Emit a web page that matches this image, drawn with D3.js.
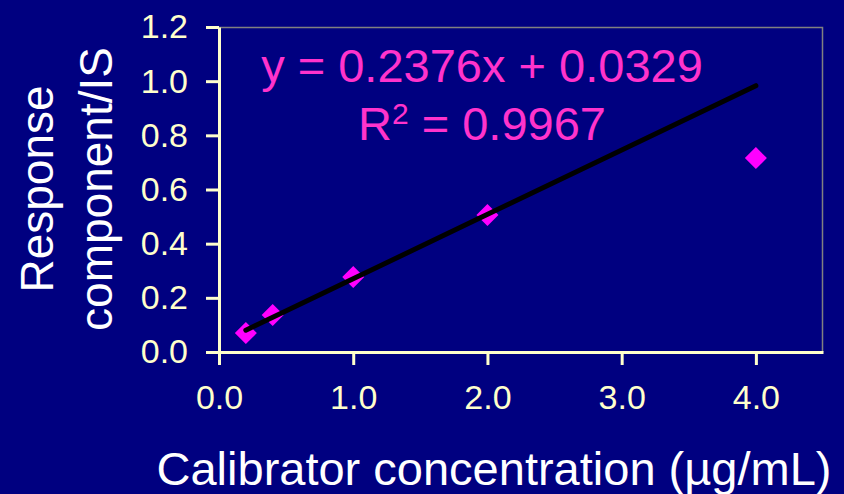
<!DOCTYPE html>
<html>
<head>
<meta charset="utf-8">
<script src="https://cdn.jsdelivr.net/npm/d3@7"></script>
<style>
  html, body { margin: 0; padding: 0; background: #000080; }
  svg { display: block; }
  text { font-family: "Liberation Sans", Arial, sans-serif; }
</style>
</head>
<body>
<svg id="chart" width="844" height="494"></svg>
<script>
// Calibration data: concentration (µg/mL) vs response ratio component/IS
const concentrations = [0.2, 0.4, 1.0, 2.0, 4.0];
const responses = [0.070, 0.137, 0.277, 0.506, 0.716];

// Linear fit shown on the chart
const slope = 0.2376;
const intercept = 0.0329;
const rSquared = 0.9967;
const fitRange = [0.2, 4.0];

const xTicks = [0, 1, 2, 3, 4];
const yTicks = [0, 0.2, 0.4, 0.6, 0.8, 1.0, 1.2];

const W = 844, H = 494;
const margin = { top: 27, right: 21, bottom: 142, left: 219 };
const iw = W - margin.left - margin.right;
const ih = H - margin.top - margin.bottom;

const svg = d3.select("#chart");
svg.append("rect").attr("width", W).attr("height", H).attr("fill", "#000080");

const g = svg.append("g").attr("transform", `translate(${margin.left},${margin.top})`);

const x = d3.scaleLinear().domain([0, 4.5]).range([0, iw]);
const y = d3.scaleLinear().domain([0, 1.2]).range([ih, 0]);

const axisColor = "#FFFFCC";

// Plot frame (top and right edges)
g.append("path")
  .attr("d", `M0,0.5H${iw - 0.5}V${ih}`)
  .attr("fill", "none")
  .attr("stroke", "#808080")
  .attr("stroke-width", 1.5);

// X axis
const xAxis = g.append("g")
  .attr("transform", `translate(0,${ih})`)
  .call(d3.axisBottom(x).tickValues(xTicks).tickFormat(d3.format(".1f")).tickSize(13).tickSizeOuter(0).tickPadding(20));
xAxis.select(".domain").attr("stroke", axisColor).attr("stroke-width", 3);
xAxis.selectAll(".tick line").attr("stroke", axisColor).attr("stroke-width", 3);
xAxis.selectAll(".tick text")
  .attr("fill", axisColor)
  .attr("font-size", 34)
  .attr("font-family", "Liberation Sans, Arial, sans-serif");

// Y axis
const yAxis = g.append("g")
  .call(d3.axisLeft(y).tickValues(yTicks).tickFormat(d3.format(".1f")).tickSize(13).tickSizeOuter(0).tickPadding(18));
yAxis.select(".domain").attr("stroke", axisColor).attr("stroke-width", 3);
yAxis.selectAll(".tick line").attr("stroke", axisColor).attr("stroke-width", 3);
yAxis.selectAll(".tick text")
  .attr("fill", axisColor)
  .attr("font-size", 34)
  .attr("font-family", "Liberation Sans, Arial, sans-serif");

// Data markers (diamonds)
const diamond = d3.symbol().type(d3.symbolSquare).size(242);
g.selectAll(".pt")
  .data(concentrations.map((c, i) => [c, responses[i]]))
  .join("path")
  .attr("class", "pt")
  .attr("d", diamond)
  .attr("transform", d => `translate(${x(d[0])},${y(d[1])}) rotate(45)`)
  .attr("fill", "#FF00FF");

// Trendline from the fitted equation, drawn over the markers
const fitPoints = fitRange.map(v => [v, slope * v + intercept]);
g.append("path")
  .datum(fitPoints)
  .attr("d", d3.line().x(d => x(d[0])).y(d => y(d[1])))
  .attr("stroke", "#000000")
  .attr("stroke-width", 5)
  .attr("stroke-linecap", "round")
  .attr("fill", "none");

// Equation and R² annotation
const eqColor = "#FF33CC";
const eqX = 482 - margin.left;
g.append("text")
  .attr("x", eqX)
  .attr("y", 82 - margin.top)
  .attr("text-anchor", "middle")
  .attr("font-size", 47)
  .attr("fill", eqColor)
  .text(`y = ${slope}x + ${intercept}`);

const r2 = g.append("text")
  .attr("x", eqX)
  .attr("y", 140 - margin.top)
  .attr("text-anchor", "middle")
  .attr("font-size", 47)
  .attr("fill", eqColor);
r2.append("tspan").text("R");
r2.append("tspan").attr("font-size", 30).attr("dy", -16).text("2");
r2.append("tspan").attr("dy", 16).text(` = ${rSquared}`);

// Axis titles
svg.append("text")
  .attr("x", 494)
  .attr("y", 485)
  .attr("text-anchor", "middle")
  .attr("font-size", 47)
  .attr("fill", "#FFFFFF")
  .text("Calibrator concentration (µg/mL)");

const yTitle = svg.append("text")
  .attr("transform", `translate(0,189) rotate(-90)`)
  .attr("text-anchor", "middle")
  .attr("font-size", 46)
  .attr("fill", "#FFFFFF");
yTitle.append("tspan").attr("x", 0).attr("y", 53).text("Response");
yTitle.append("tspan").attr("x", 0).attr("y", 112).text("component/IS");
</script>
</body>
</html>
